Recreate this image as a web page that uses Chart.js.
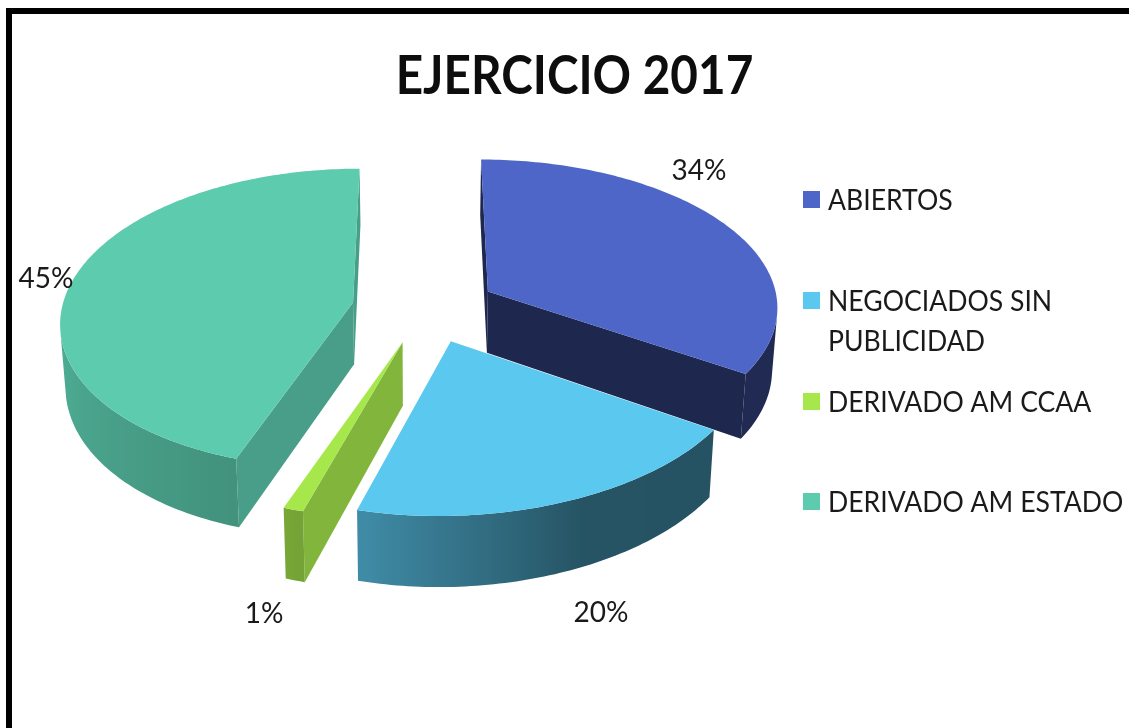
<!DOCTYPE html>
<html>
<head>
<meta charset="utf-8">
<script src="https://cdn.jsdelivr.net/npm/chart.js@4/dist/chart.umd.js"></script>
<style>
  html, body { margin: 0; padding: 0; background: #fff; overflow: hidden; }
  #wrap { position: relative; width: 1129px; height: 728px; }
  #frame { position: absolute; left: 6px; top: 8px; width: 1200px; height: 800px; border: 6px solid #000; }
  canvas { position: absolute; left: 0; top: 0; }
</style>
</head>
<body>
<div id="wrap">
  <div id="frame"></div>
  <canvas id="pie-chart"></canvas>
</div>
<script>
const categories = ['ABIERTOS', ['NEGOCIADOS SIN', 'PUBLICIDAD'], 'DERIVADO AM CCAA', 'DERIVADO AM ESTADO'];
const percentages = [34, 20, 1, 45];
const titleText = 'EJERCICIO 2017';

const sliceColors = ['#4E66C7', '#5BC8EF', '#A6E84C', '#5CCBAE'];
const cutShade = [0.39, 0.42, 0.78, 0.78];
const wallShadeAngles = [0, 155, 194, 198, 270, 360];
const wallShadeValues = [0.39, 0.42, 0.70, 0.72, 0.88, 0.88];
const labelSpots = [[699, 171], [601, 613], [264, 614], [46, 279]];
const legendRows = [200, 301, 402, 502];

// projection of the pie plane, fitted by eye to the picture
const view = { cx: 422, cy: 308, rx: 291, ry: 149, persp: 0.105, explodeX: 0.25, explodeY: 0.234, depth: 62, squeeze: 0.985 };
const textColor = '#1a1a1a';

const project = (x, y) => {
  const p = 1 / (1 - view.persp * y);
  const front = Math.max(0, y);
  const drift = 2.5 - 4 * y - 4 * y * y - 3 * front * front * front;
  return { x: view.cx + view.rx * x * p + drift, y: view.cy + view.ry * y * p, p: p };
};

const lowered = (pt) => {
  return { x: view.cx + (pt.x - view.cx) * view.squeeze, y: pt.y + view.depth * pt.p };
};

const shadeColor = (hex, f) => {
  const n = parseInt(hex.slice(1), 16);
  const r = Math.round(((n >> 16) & 255) * f);
  const g = Math.round(((n >> 8) & 255) * f);
  const b = Math.round((n & 255) * f);
  return `rgb(${r},${g},${b})`;
};

const wallShade = (deg) => {
  for (let i = 1; i < wallShadeAngles.length; i++) {
    if (deg <= wallShadeAngles[i]) {
      const t = (deg - wallShadeAngles[i - 1]) / (wallShadeAngles[i] - wallShadeAngles[i - 1]);
      return wallShadeValues[i - 1] + t * (wallShadeValues[i] - wallShadeValues[i - 1]);
    }
  }
  return 1;
};

// only walls facing the viewer
const facing = (a, b) => {
  const c = lowered(b);
  return (b.x - a.x) * (c.y - b.y) - (b.y - a.y) * (c.x - b.x) < 0;
};

const fillWall = (ctx, points, paint) => {
  ctx.fillStyle = paint;
  ctx.beginPath();
  points.forEach((pt, i) => {
    if (i === 0) ctx.moveTo(pt.x, pt.y);
    else ctx.lineTo(pt.x, pt.y);
  });
  points.slice().reverse().forEach((pt) => {
    const low = lowered(pt);
    ctx.lineTo(low.x, low.y);
  });
  ctx.closePath();
  ctx.fill();
};

const drawSlice = (ctx, arc, color, cut) => {
  const start = arc.startAngle + Math.PI / 2;
  const end = arc.endAngle + Math.PI / 2;
  const mid = (start + end) / 2;
  const ox = Math.sin(mid) * view.explodeX;
  const oy = -Math.cos(mid) * view.explodeY;
  const apex = project(ox, oy);

  const rim = [];
  const angles = [];
  const steps = Math.max(2, Math.ceil((end - start) / (Math.PI / 180)));
  for (let i = 0; i <= steps; i++) {
    const a = start + (end - start) * i / steps;
    rim.push(project(ox + Math.sin(a), oy - Math.cos(a)));
    angles.push(a * 180 / Math.PI);
  }

  const cutColor = shadeColor(color, cut);
  if (facing(apex, rim[0])) fillWall(ctx, [apex, rim[0]], cutColor);
  if (facing(rim[steps], apex)) fillWall(ctx, [rim[steps], apex], cutColor);

  // outer wall, one run of rim points with the shade following x
  const run = [];
  const runAngles = [];
  for (let i = 0; i < steps; i++) {
    if (facing(rim[i], rim[i + 1])) {
      if (run.length === 0) {
        run.push(rim[i]);
        runAngles.push(angles[i]);
      }
      run.push(rim[i + 1]);
      runAngles.push(angles[i + 1]);
    }
  }
  if (run.length > 1) {
    const x0 = run[0].x;
    const x1 = run[run.length - 1].x;
    const grad = ctx.createLinearGradient(x0, 0, x1, 0);
    run.forEach((pt, i) => {
      const stop = Math.min(1, Math.max(0, (pt.x - x0) / (x1 - x0)));
      grad.addColorStop(stop, shadeColor(color, wallShade(runAngles[i])));
    });
    fillWall(ctx, run, grad);
  }

  ctx.fillStyle = color;
  ctx.beginPath();
  ctx.moveTo(apex.x, apex.y);
  rim.forEach((pt) => ctx.lineTo(pt.x, pt.y));
  ctx.closePath();
  ctx.fill();
};

const narrowText = (ctx, text, x, y, stretch) => {
  ctx.save();
  ctx.translate(x, y);
  ctx.scale(stretch, 1);
  ctx.fillText(text, 0, 0);
  ctx.restore();
};

const tiltedPie = {
  id: 'tiltedPie',
  beforeDatasetDraw(chart, args) {
    const ctx = chart.ctx;
    const arcs = args.meta.data;
    // back to front
    const order = arcs.map((arc, i) => i).sort((a, b) => {
      const midA = (arcs[a].startAngle + arcs[a].endAngle) / 2 + Math.PI / 2;
      const midB = (arcs[b].startAngle + arcs[b].endAngle) / 2 + Math.PI / 2;
      return Math.cos(midB) - Math.cos(midA);
    });
    ctx.save();
    order.forEach((i) => drawSlice(ctx, arcs[i], chart.data.datasets[0].backgroundColor[i], cutShade[i]));
    ctx.restore();
    return false;
  },
  afterDraw(chart) {
    const ctx = chart.ctx;
    ctx.save();
    ctx.textBaseline = 'middle';

    ctx.font = 'bold 54px Lato';
    ctx.fillStyle = '#0d0d0d';
    ctx.textAlign = 'center';
    narrowText(ctx, titleText, 574.5, 77, 0.883);

    ctx.font = '28px Lato';
    ctx.fillStyle = textColor;
    chart.data.datasets[0].data.forEach((value, i) => {
      ctx.fillText(`${value}%`, labelSpots[i][0], labelSpots[i][1]);
    });

    ctx.textAlign = 'left';
    chart.data.labels.forEach((label, i) => {
      ctx.fillStyle = chart.data.datasets[0].backgroundColor[i];
      ctx.fillRect(803, legendRows[i] - 9, 17, 17);
      ctx.fillStyle = textColor;
      [].concat(label).forEach((line, j) => {
        narrowText(ctx, line, 828, legendRows[i] + 1 + j * 40, 0.95);
      });
    });
    ctx.restore();
  }
};

const pieChart = new Chart(document.getElementById('pie-chart').getContext('2d'), {
  type: 'pie',
  data: {
    labels: categories,
    datasets: [{
      data: percentages,
      backgroundColor: sliceColors
    }]
  },
  options: {
    responsive: true,
    maintainAspectRatio: false,
    animation: false,
    plugins: {
      legend: { display: false },
      tooltip: { enabled: false }
    }
  },
  plugins: [tiltedPie]
});
</script>
</body>
</html>
